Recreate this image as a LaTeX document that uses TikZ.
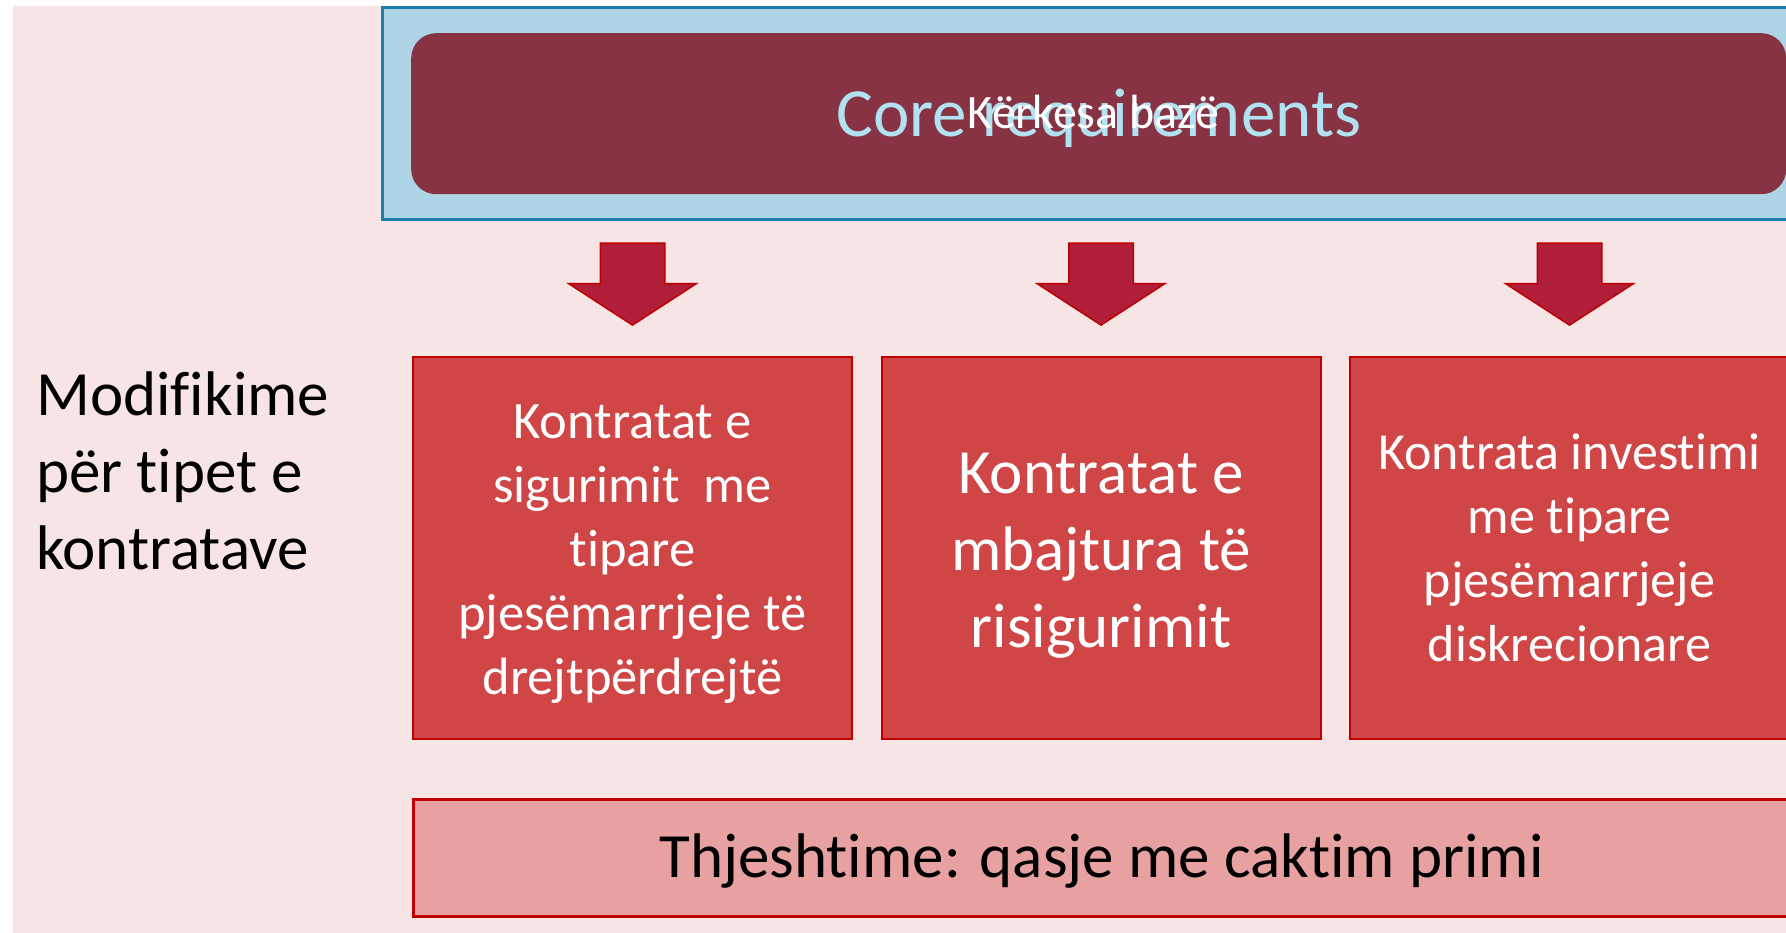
\documentclass[tikz,border=0pt]{standalone}
\usepackage{fontspec}
\setmainfont[Ligatures=NoCommon]{Carlito}
\usepackage{tikz}
\usetikzlibrary{shapes.arrows, positioning}
\usepackage{xcolor}
\definecolor{bgpink}{HTML}{F7E4E4}
\definecolor{skyblue}{HTML}{ADD5E6}
\definecolor{frameblue}{HTML}{1B7FAA}
\definecolor{wine}{HTML}{873343}
\definecolor{paleblue}{HTML}{B0E2F2}
\definecolor{crimson}{HTML}{B01E3A}
\definecolor{borderred}{HTML}{C00000}
\definecolor{boxred}{HTML}{D04545}
\definecolor{rosebox}{HTML}{E8A1A1}

\begin{document}
\begin{tikzpicture}[x=1pt,y=-1pt,node distance=27.5pt,inner sep=0pt]
    \tikzstyle{frame}=[rectangle,draw=frameblue,line width=3pt,fill=skyblue,minimum width=1430pt,minimum height=212pt]
    \tikzstyle{core}=[rectangle,rounded corners=25pt,fill=wine,minimum width=1375pt,minimum height=161pt]
    \tikzstyle{contract}=[rectangle,draw=borderred,line width=2pt,fill=boxred,minimum width=439pt,minimum height=382pt]
    \tikzstyle{inside}=[text=white,align=center]
    \tikzstyle{downarrow}=[single arrow,shape border rotate=270,draw=borderred,line width=1.5pt,fill=crimson,inner xsep=31.5pt,inner ysep=0pt,minimum height=82pt,minimum width=126pt,single arrow head extend=31.5pt,single arrow tip angle=114]

    \useasboundingbox (0,0) rectangle (1786,933);
    \clip (0,0) rectangle (1786,933);
    \fill[bgpink] (13,6) rectangle (1800,933);

    \node[frame,anchor=north west] (F) at (381,6) {};
    \node[core,anchor=north west] (K) at (411,33) {};
    \node[text=paleblue,font=\fontsize{69}{84}\selectfont] (Ken) at ([yshift=-5pt]K.center) {Core requirements};
    \node[text=white,font=\fontsize{48}{58}\selectfont] (Ksq) at ([xshift=-5pt,yshift=2pt]K.center) {Kërkesa bazë};

    \node[contract,anchor=north west] (C1) at (412,356) {};
    \node[contract,right=of C1] (C2) {};
    \node[contract,right=of C2] (C3) {};

    \node[inside,font=\fontsize{52.5}{64}\selectfont] (T1) at ([yshift=-6pt]C1.center)
        {Kontratat e\\sigurimit\ \ me\\tipare\\pjesëmarrjeje të\\drejtpërdrejtë};
    \node[inside,font=\fontsize{63}{77}\selectfont] (T2) at ([yshift=-8pt]C2.center)
        {Kontratat e\\mbajtura të\\risigurimit};
    \node[inside,font=\fontsize{52}{64}\selectfont] (T3) at (C3.center)
        {Kontrata investimi\\me tipare\\pjesëmarrjeje\\diskrecionare};

    \node[downarrow,above=30pt of C1] (A1) {};
    \node[downarrow,above=30pt of C2] (A2) {};
    \node[downarrow,above=30pt of C3] (A3) {};

    \node[anchor=base west,align=left,font=\fontsize{63}{77}\selectfont] (M) at (36,569)
        {Modifikime\\për tipet e\\kontratave};

    \node[rectangle,draw=borderred,line width=3pt,fill=rosebox,anchor=north west,
        minimum width=1376pt,minimum height=117pt] (S) at (412,798) {};
    \node[font=\fontsize{63}{77}\selectfont] (ST) at ([yshift=-3pt]S.center) {Thjeshtime: qasje me caktim primi};
\end{tikzpicture}
\end{document}
